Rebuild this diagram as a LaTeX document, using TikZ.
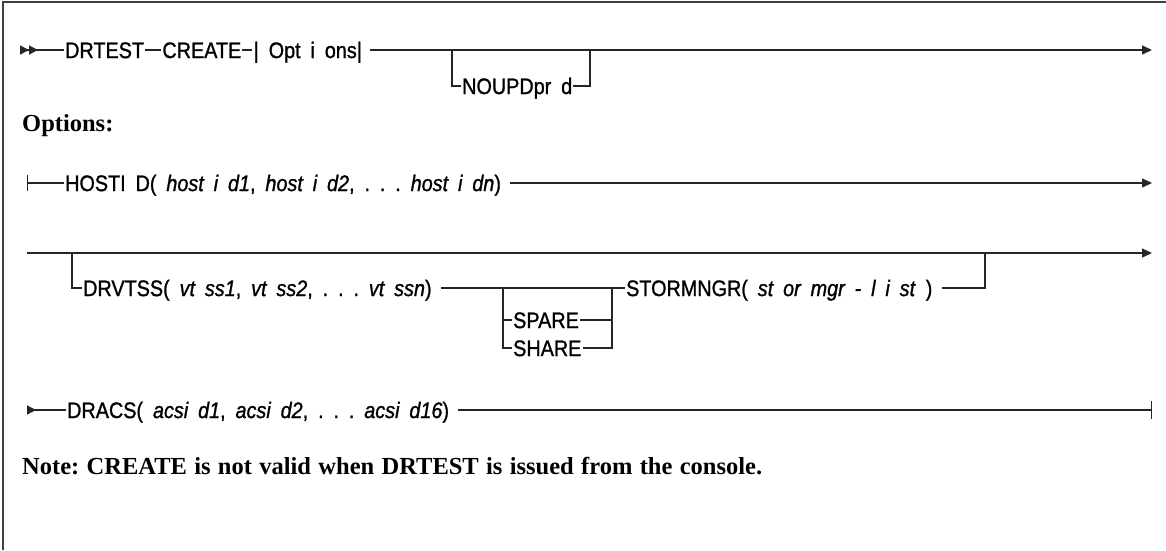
\documentclass[tikz,border=0pt]{standalone}
\usepackage{fontspec}
\newfontfamily\synfont[FakeStretch=0.88,WordSpace=1.8,FakeBold=1.1]{Liberation Sans}
\newfontfamily\notefont[WordSpace=1.2]{Liberation Serif}
\usetikzlibrary{arrows.meta,positioning}
\frenchspacing

\begin{document}
\begin{tikzpicture}[
  x=1pt, y=-1pt,
  kw/.style={font=\synfont\fontsize{22.5}{25}\selectfont, anchor=west,
             inner xsep=1pt, inner ysep=0pt, text height=16.1pt, text depth=0pt},
  hdr/.style={font=\notefont\bfseries\fontsize{24.5}{28}\selectfont,
              anchor=west, inner sep=0pt},
  rail/.style={line width=1.3pt, black!85},
  go/.style={rail, -{Triangle[length=10pt,width=9pt]}},
  entry/.style={rail, {Triangle[reversed,length=9pt,width=9pt]}-},
]
\useasboundingbox (0,0) rectangle (1166,550);
\draw[line width=1.8pt, black!75] (3,550) -- (3,2) -- (1166,2);

% main statement
\coordinate (r1start) at (20,50);
\coordinate (r1end) at (1152,50);
\coordinate (br1in) at (452,50);
\coordinate (br1out) at (590,50);
\node[kw] (drtest) at (64,50) {DRTEST};
\node[kw, right=16pt of drtest] (create) {CREATE};
\node[kw, right=10pt of create] (optref) {| Opt i ons|};
\node[kw] (noupd) at (461,86) {NOUPDpr d};

\draw[rail, {Triangle[reversed,length=9pt,width=9pt]Triangle[reversed,length=9pt,width=9pt]}-]
  (r1start) -- (drtest.west);
\draw[rail] (drtest.east) -- (create.west);
\draw[rail] (create.east) -- (optref.west);
\draw[go] ([xshift=7pt]optref.east) -- (r1end);
\draw[rail] (br1in) |- (noupd.west);
\draw[rail] (noupd.east) -| (br1out);

\node[hdr] (opthdr) at (22,126) {Options:};

% options fragment
\coordinate (r2start) at (27,183);
\coordinate (r2end) at (1152,183);
\node[kw] (hostid) at (64,183)
  {HOSTI D( \textit{host i d1}, \textit{host i d2}, . . . \textit{host i dn})};
\draw[rail, {Bar[width=16pt]}-] (r2start) -- (hostid.west);
\draw[go] ([xshift=8pt]hostid.east) -- (r2end);

\coordinate (r3start) at (27,253);
\coordinate (r3end) at (1152,253);
\coordinate (br3in) at (72,253);
\coordinate (br3out) at (985,253);
\coordinate (grpin) at (503,288);
\coordinate (grpout) at (612,288);
\node[kw] (drvtss) at (82,288)
  {DRVTSS( \textit{vt ss1}, \textit{vt ss2}, . . . \textit{vt ssn})};
\node[kw] (spare) at (512,320) {SPARE};
\node[kw] (share) at (512,348) {SHARE};
\node[kw] (stormngr) at (625,288) {STORMNGR( \textit{st or mgr - l i st} )};

\draw[entry, -{Triangle[length=10pt,width=9pt]}] (r3start) -- (r3end);
\draw[rail] (br3in) |- (drvtss.west);
\draw[rail] ([xshift=8pt]drvtss.east) -- (grpin) -- (grpout);
\draw[rail] (grpin) |- (spare.west);
\draw[rail] (grpin) |- (share.west);
\draw[rail] (spare.east) -| (grpout);
\draw[rail] (share.east) -| (grpout);
\draw[rail] (grpout) -- (stormngr.west);
\draw[rail] ([xshift=8pt]stormngr.east) -| (br3out);

\coordinate (r4start) at (27,410);
\coordinate (r4end) at (1152,410);
\node[kw] (dracs) at (66,410)
  {DRACS( \textit{acsi d1}, \textit{acsi d2}, . . . \textit{acsi d16})};
\draw[entry] (r4start) -- (dracs.west);
\draw[rail, -{Bar[width=18pt]}] ([xshift=8pt]dracs.east) -- (r4end);

\node[hdr] (note) at (22,466)
  {Note: CREATE is not valid when DRTEST is issued from the console.};
\end{tikzpicture}
\end{document}
